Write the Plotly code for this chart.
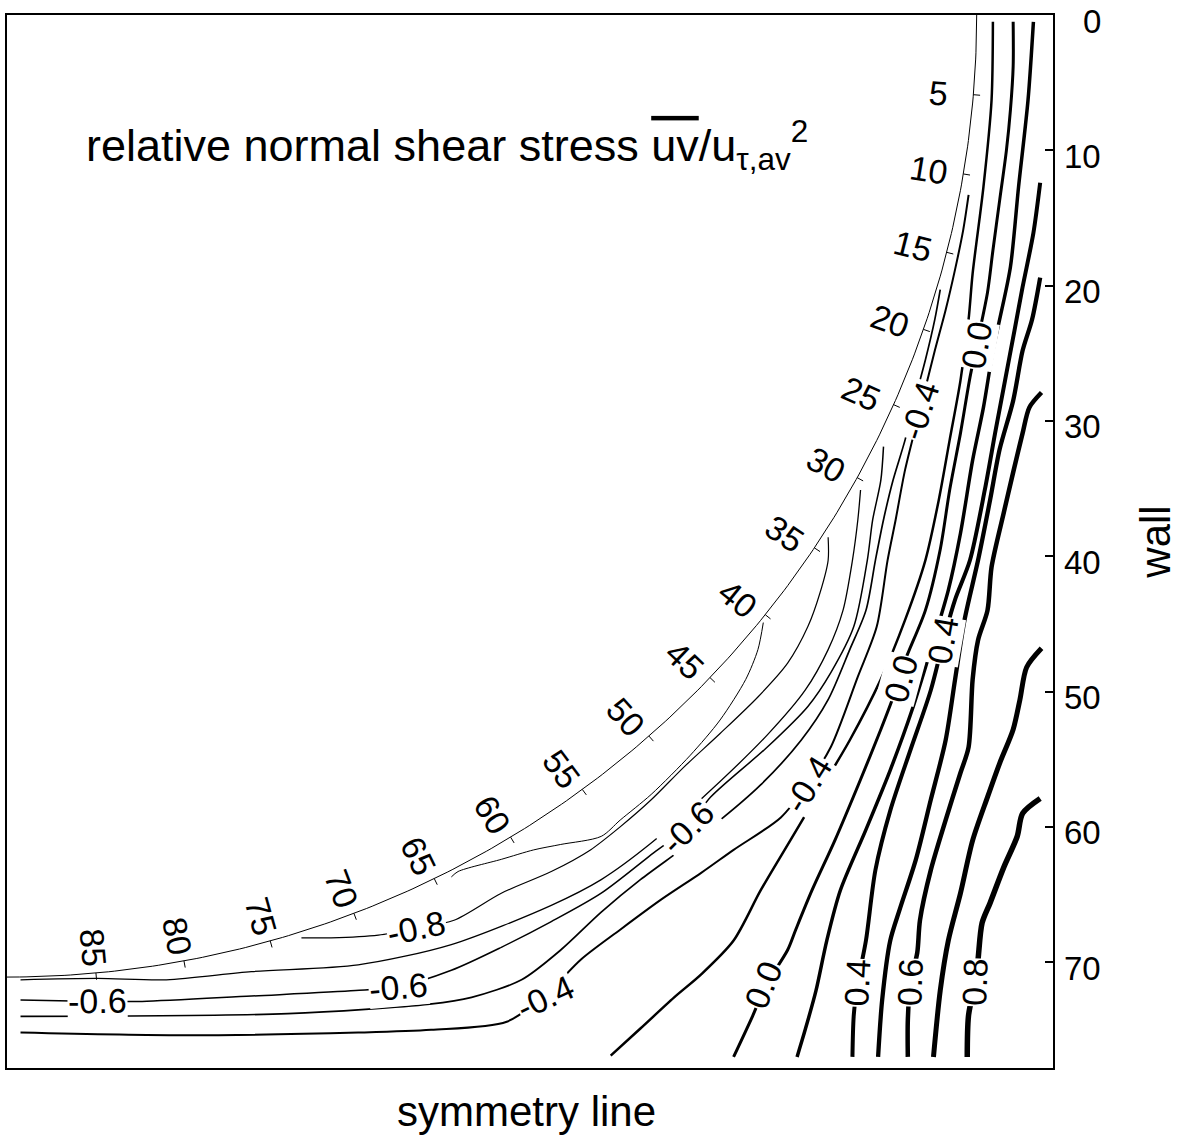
import numpy as np
import plotly.graph_objects as go

# ---------------- axes (duct corner, equal length units on both axes) ----------------
X_RANGE = [0, 77.45]
Y_RANGE = [77.82, 0]
Y_TICKS = [0, 10, 20, 30, 40, 50, 60, 70]

# circular arc bounding the measured region, with angle marks in degrees
ARC_RX, ARC_RY = 71.8, 71.1
ANGLES = [5, 10, 15, 20, 25, 30, 35, 40, 45, 50, 55, 60, 65, 70, 75, 80, 85]
ANGLE_SQUEEZE = 0.95
ANGLE_LABEL_R = 69.2

# ---------------- contour lines of uv / u_tau,av^2 ----------------
UV_M09_X = [56.0, 55.6, 54.7, 52.8, 50.6, 47.7, 45.4, 44.0, 41.0, 39.0, 36.6, 33.4, 32.9]
UV_M09_Y = [44.9, 46.9, 49.1, 52.1, 54.7, 57.6, 59.5, 60.7, 61.3, 61.7, 62.4, 63.3, 63.7]

UV_M08_X = [60.8, 60.8, 60.2, 59.3, 57.8, 55.6, 52.8, 50.1, 47.7, 45.4, 43.2, 40.3, 36.6, 33.1, 30.3, 27.5, 24.0, 21.8]
UV_M08_Y = [38.6, 40.3, 42.7, 45.2, 47.9, 50.4, 53.1, 55.6, 58.0, 60.0, 61.7, 63.3, 64.9, 66.9, 67.5, 68.0, 68.2, 68.2]

UV_M07_X = [63.2, 63.0, 62.6, 61.9, 60.8, 59.1, 56.3, 52.1, 47.7, 44.0, 40.3, 32.9, 26.0, 18.1, 11.8, 6.7, 1.0]
UV_M07_Y = [35.1, 37.3, 40.3, 44.0, 46.9, 49.9, 53.2, 57.3, 61.2, 63.9, 65.8, 68.7, 70.2, 70.7, 71.3, 71.2, 71.3]

UV_M06_X = [64.9, 64.7, 64.1, 63.7, 62.7, 61.0, 59.3, 56.3, 52.1, 50.4, 47.9, 44.0, 40.3, 36.6, 32.9, 29.0, 25.8, 18.1, 10.0, 6.7, 1.0]
UV_M06_Y = [31.9, 34.4, 37.3, 40.3, 45.2, 48.6, 51.1, 54.1, 57.8, 60.0, 61.9, 64.9, 67.0, 68.9, 70.6, 71.8, 72.1, 72.5, 72.9, 72.9, 72.8]

UV_M05_X = [69.1, 68.7, 68.0, 67.2, 66.5, 65.6, 64.9, 64.3, 63.6, 62.4, 60.8, 58.8, 55.8, 52.8, 49.9, 46.9, 44.0, 41.0, 38.1, 34.4, 31.3, 20.8, 1.0]
UV_M05_Y = [20.3, 22.5, 25.5, 28.5, 31.4, 34.4, 37.3, 40.3, 44.0, 46.9, 50.6, 53.6, 56.9, 59.5, 61.7, 63.9, 66.3, 69.1, 71.3, 72.6, 73.1, 73.8, 74.0]

UV_M04_X = [71.2, 70.8, 70.2, 69.5, 68.7, 67.6, 66.5, 65.8, 65.2, 64.4, 63.0, 61.0, 59.3, 57.3, 53.8, 51.4, 48.4, 45.4, 42.5, 39.9, 37.0, 31.4, 26.0, 12.9, 1.0]
UV_M04_Y = [13.3, 15.9, 18.8, 21.8, 24.8, 29.2, 33.6, 37.3, 40.3, 45.2, 48.9, 54.1, 56.8, 59.3, 61.7, 63.4, 65.4, 67.6, 69.8, 72.4, 74.4, 75.0, 75.2, 75.4, 75.2]

UV_M02_X = [73.0, 72.9, 72.3, 71.5, 71.2, 70.6, 69.8, 69.0, 68.0, 66.5, 64.7, 62.4, 60.2, 58.0, 55.8, 53.8, 51.4, 49.4, 46.9, 44.7]
UV_M02_Y = [0.5, 6.3, 12.7, 19.1, 22.5, 27.0, 31.4, 35.8, 40.3, 44.7, 49.1, 53.6, 57.3, 61.0, 64.7, 68.4, 70.9, 72.6, 74.9, 76.9]

UV_00_X = [74.5, 74.5, 74.3, 74.0, 73.5, 73.0, 72.6, 71.8, 71.3, 70.6, 69.8, 69.1, 68.0, 66.5, 65.8, 64.7, 63.2, 61.3, 59.6, 58.4, 57.8, 56.2, 55.2, 53.8]
UV_00_Y = [0.5, 3.8, 7.0, 10.0, 13.7, 17.4, 20.5, 24.4, 26.8, 30.9, 35.1, 39.5, 44.0, 47.7, 49.9, 52.8, 56.5, 61.0, 64.7, 67.6, 69.1, 71.7, 74.0, 77.0]

UV_02_X = [76.0, 75.6, 74.9, 74.3, 73.5, 73.0, 72.3, 71.5, 70.6, 69.7, 68.4, 67.0, 65.4, 63.6, 61.7, 60.7, 59.9, 59.1, 58.5]
UV_02_Y = [0.5, 6.3, 12.7, 18.6, 22.5, 24.8, 29.0, 32.9, 38.3, 42.5, 46.9, 51.4, 55.8, 60.2, 64.7, 68.4, 72.1, 75.0, 77.0]

UV_04_X = [76.5, 76.0, 75.2, 74.6, 73.9, 73.2, 72.4, 71.3, 70.2, 69.5, 68.4, 66.9, 65.4, 64.3, 63.6, 63.0, 62.7, 62.6]
UV_04_Y = [12.4, 16.1, 20.1, 23.3, 27.0, 30.7, 35.1, 40.3, 43.2, 45.6, 49.9, 54.3, 58.8, 63.2, 68.4, 71.5, 73.9, 77.0]

UV_05_X = [76.5, 75.9, 75.2, 74.5, 73.5, 72.8, 71.9, 70.9, 70.2, 69.5, 68.4, 67.3, 66.1, 65.4, 64.8, 64.5]
UV_05_Y = [19.4, 22.5, 24.8, 28.5, 32.1, 35.8, 40.3, 44.7, 49.1, 53.6, 58.0, 62.4, 66.1, 68.4, 72.8, 77.0]

UV_06_X = [76.6, 75.7, 75.2, 74.5, 73.8, 72.9, 72.6, 71.9, 71.5, 71.2, 70.6, 69.5, 68.4, 67.6, 67.4, 66.9, 66.7, 66.7]
UV_06_Y = [27.9, 29.0, 30.9, 33.8, 36.8, 40.8, 44.0, 46.2, 49.1, 54.1, 56.0, 59.5, 63.2, 66.9, 69.3, 71.5, 74.3, 77.0]

UV_07_X = [76.6, 75.5, 75.0, 74.5, 73.5, 72.6, 71.5, 70.6, 69.7, 69.1, 68.6]
UV_07_Y = [46.8, 48.2, 50.6, 52.8, 55.3, 57.8, 61.0, 64.9, 68.4, 72.1, 77.0]

UV_08_X = [76.5, 75.2, 74.8, 73.8, 72.8, 72.2, 71.9, 71.7, 71.2, 71.1]
UV_08_Y = [57.9, 59.0, 60.7, 63.0, 65.6, 67.1, 69.8, 71.5, 73.9, 77.0]

# inline contour labels
CLABEL_TEXT = ["-0.8", "-0.6", "-0.6", "-0.6", "-0.4", "-0.4", "-0.4",
               "0.0", "0.0", "0.4", "0.0", "0.4", "0.6", "0.8"]
CLABEL_X = [30.3, 6.7, 29.0, 50.4, 39.9, 59.3, 67.6, 71.8, 66.2, 69.3, 56.0, 63.0, 66.9, 71.7]
CLABEL_Y = [67.5, 72.9, 71.8, 60.0, 72.6, 56.8, 29.2, 24.4, 49.1, 46.2, 71.7, 71.5, 71.5, 71.5]
CLABEL_ROT = [-12, -1, -5, -45, -25, -58, -72, -80, -75, -80, -68, -87, -88, -88]

FONT = "Liberation Sans, Arial, sans-serif"

fig = go.Figure()

contours = [
    (UV_M09_X, UV_M09_Y, 1.0),
    (UV_M08_X, UV_M08_Y, 1.2),
    (UV_M07_X, UV_M07_Y, 1.3),
    (UV_M06_X, UV_M06_Y, 1.5),
    (UV_M05_X, UV_M05_Y, 1.7),
    (UV_M04_X, UV_M04_Y, 2.0),
    (UV_M02_X, UV_M02_Y, 2.5),
    (UV_00_X, UV_00_Y, 3.0),
    (UV_02_X, UV_02_Y, 3.5),
    (UV_04_X, UV_04_Y, 4.0),
    (UV_05_X, UV_05_Y, 4.3),
    (UV_06_X, UV_06_Y, 4.5),
    (UV_07_X, UV_07_Y, 5.0),
    (UV_08_X, UV_08_Y, 5.5),
]
for xs, ys, w in contours:
    fig.add_trace(go.Scatter(x=xs, y=ys, mode="lines",
                             line=dict(color="black", width=w, shape="spline", smoothing=0.8),
                             hoverinfo="skip", showlegend=False))

# arc
t = np.radians(np.linspace(0, 90, 241))
fig.add_trace(go.Scatter(x=ARC_RX * np.cos(t), y=ARC_RY * np.sin(t), mode="lines",
                         line=dict(color="black", width=1), hoverinfo="skip", showlegend=False))

# angle ticks and labels along the arc
ang = np.radians(np.array(ANGLES, dtype=float))
phi = np.arctan(ANGLE_SQUEEZE * np.tan(ang))
tx, ty = [], []
for p in phi:
    c, s = np.cos(p), np.sin(p)
    tx += [ARC_RX * c, (ARC_RX + 0.5) * c, None]
    ty += [ARC_RY * s, (ARC_RY + 0.5) * s, None]
fig.add_trace(go.Scatter(x=tx, y=ty, mode="lines", line=dict(color="black", width=1),
                         hoverinfo="skip", showlegend=False))

annotations = []
for a, p in zip(ANGLES, phi):
    annotations.append(dict(x=ANGLE_LABEL_R * np.cos(p), y=ANGLE_LABEL_R * np.sin(p),
                            xref="x", yref="y", text=str(a), showarrow=False,
                            textangle=float(np.degrees(p)), font=dict(size=34, family=FONT, color="black")))

for txt, x, y, r in zip(CLABEL_TEXT, CLABEL_X, CLABEL_Y, CLABEL_ROT):
    annotations.append(dict(x=x, y=y, xref="x", yref="y", text=txt, showarrow=False,
                            textangle=r, bgcolor="white", borderpad=0,
                            font=dict(size=34, family=FONT, color="black")))

# right-hand axis numbers (wall distance), right-aligned
for v in Y_TICKS:
    annotations.append(dict(x=1.0477, y=v, xref="paper", yref="y", xanchor="right", yanchor="middle",
                            yshift=-6, text=str(v), showarrow=False,
                            font=dict(size=33, family=FONT, color="black")))

annotations.append(dict(x=0.074, y=0.877, xref="paper", yref="paper", xanchor="left", yanchor="middle",
                        text="relative normal shear stress <span style='text-decoration:overline'>uv</span>/u<sub>τ,av</sub><sup>2</sup>",
                        showarrow=False, font=dict(size=45, family=FONT, color="black")))
annotations.append(dict(x=0.497, y=-0.066, xref="paper", yref="paper", text="symmetry line",
                        showarrow=False, font=dict(size=42, family=FONT, color="black")))
annotations.append(dict(x=1.122, y=0.499, xref="paper", yref="paper", text="wall", textangle=-90,
                        showarrow=False, font=dict(size=42, family=FONT, color="black")))

fig.update_layout(
    width=1178, height=1146,
    margin=dict(l=5, r=125, t=15, b=78),
    plot_bgcolor="white", paper_bgcolor="white",
    font=dict(family=FONT, color="black"),
    annotations=annotations,
    xaxis=dict(range=X_RANGE, showticklabels=False, showgrid=False, zeroline=False,
               showline=True, mirror=True, linecolor="black", linewidth=1.5, ticks=""),
    yaxis=dict(range=Y_RANGE, side="right", tickvals=Y_TICKS, ticks="inside", ticklen=8,
               tickwidth=1.5, tickcolor="black", showticklabels=False,
               showgrid=False, zeroline=False, showline=True, mirror=True,
               linecolor="black", linewidth=1.5),
)

fig.write_html("out.html")
